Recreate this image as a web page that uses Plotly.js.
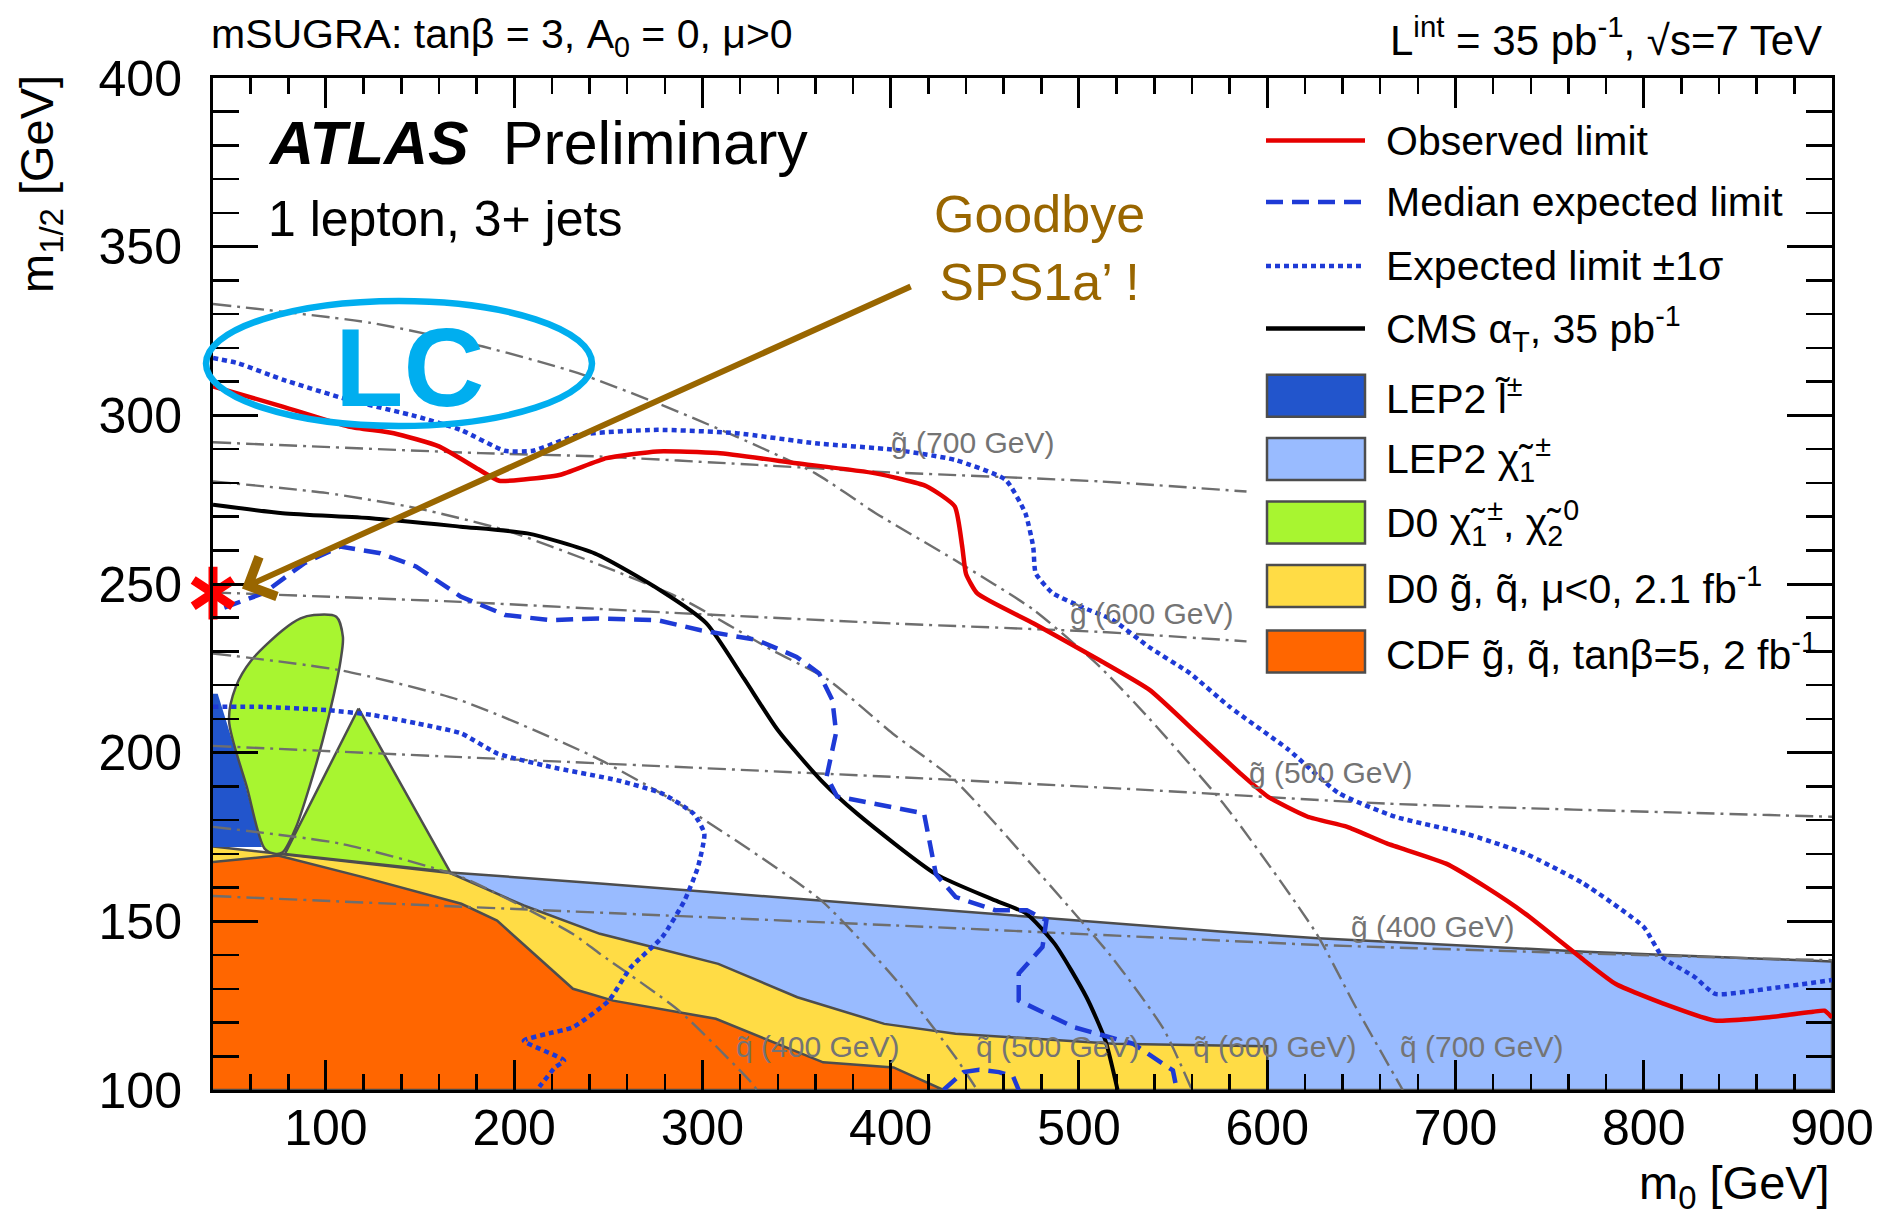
<!DOCTYPE html>
<html><head><meta charset="utf-8">
<script src="https://cdn.plot.ly/plotly-3.0.1.min.js"></script>
<style>html,body{margin:0;padding:0;background:#fff}</style>
</head><body><div id="chart" style="width:1894px;height:1218px"></div>
<script>
// ---------------- DATA (m0 [GeV], m1/2 [GeV]) ----------------
// Observed limit (red)
const obsM0  = [40,77,112,136,160,181,192,205,224,249,276,308,350,392,419,434,438,440,446,476,511,537.5,562.7,585.8,600.5,621.5,642.5,663.5,695,716,737,768.4,785.2,810.4,837.7,866.7,890,896,900];
const obsM12 = [308.6,302.6,296.7,294.7,290.8,284,280.6,281,282.3,287.3,289.3,288.8,285.8,282.8,279,273,261,253,247.2,238.3,227.4,218.6,205.7,193.8,186.9,181,178,173.1,167.1,160.2,152.3,138.4,131.4,125.6,120.6,121.6,123.2,123.5,121.5];
// Median expected limit (blue dashed), second piece = small arc near the bottom
const medM0  = [46,67,88.6,107.6,128.9,147.8,171.5,195.2,219,245,276,299,329,350,362,369,371,366,371.5,417.7,424,434.5,455.5,472.3,482.7,480.6,468,468,497.4,528.9,549.9,552,null,428,438.6,447,457.5,465,468];
const medM12 = [243,247.3,256.2,261.1,259.1,255.2,246.3,240.8,239.3,239.8,239.3,236.3,233.4,228.4,223.5,215.6,206,193,187,182,164,157.2,153.3,153.3,150.3,142.4,134.5,126.5,118.6,113.7,105.8,100,null,100,105.3,106,105.3,104,100];
// Expected limit +-1 sigma (blue dotted): upper and lower edges
const sigUpM0  = [40,53,77,112,148,171.5,195,210,234,276,318,360,402,434,461,471.5,475.7,477,486,501,518,537,559,580,611,638,668,705.5,737,768,800,810,827,838,867,900];
const sigUpM12 = [317,315.5,310.6,304.6,299.7,295.7,289.5,289.5,294.2,295.7,294.7,291.7,289.8,286.8,280.9,271,261,253.2,247.3,243.3,239.3,231.4,223.5,213.6,201,188,181,176,170.1,161.2,148.3,139.4,133.5,128.5,130.1,132.6];
const sigDnM0  = [40,65,100.7,124.4,148.2,171.9,190.9,219.3,254.9,278.6,295.3,301,297.6,290.5,278.6,262,250.2,231.2,217,205.1,226.5,221.7,214.6,212];
const sigDnM12 = [213.6,213.6,212.6,211.2,208.7,205.7,199.8,195.8,191.8,187.9,181.9,176,166.1,156.2,145.3,136.4,126.5,118.6,116.6,114.6,108.7,106.7,101.8,100];
// CMS alphaT 35 pb-1 (black)
const cmsM0  = [40,77,124,171.5,207,243,278,302,322,340,363,382,424,455.5,472,487,504,514,520.5];
const cmsM12 = [273.5,271,269.5,267,265,259,248,238.4,222,206.7,191.8,182,164,156.2,152.3,143.4,127.5,114.7,100];
// Excluded regions
const lepSlepM0  = [40,42.5,55,66,40];
const lepSlepM12 = [217.5,217.5,195,172,172];
const lepCharM0  = [166,245.5,401.5,485,575,627,769,900,900,166];
const lepCharM12 = [164.5,161.2,154.5,150.9,147,145,141,138.1,100,100];
const d0EllM0  = [93.6,105.5,109,107.8,104.3,98.3,91.2,84.1,77,73.4,67.5,58,48.5,52.1,60.4,77,86.5,93.6];
const d0EllM12 = [240.8,240.3,234.3,227.4,217.5,203.7,189.8,177.9,170.5,170,171.5,189.8,209.6,219.5,227.4,236.3,239.8,240.8];
const d0TriM0  = [117.3,78.2,166,117.3];
const d0TriM12 = [213.1,170,164.6,213.1];
const d0SqM0  = [40,74.6,143,166,205.1,245.5,273.9,308.4,350.4,396.6,434.4,518.4,574.6,600,600,40];
const d0SqM12 = [172.2,170,165.6,164.3,154.7,146.3,142.3,137.4,127.5,119.6,116.7,113.7,113.2,113,100,100];
const cdfM0  = [40,74.6,119.7,171.9,190.9,231.2,252.5,307.1,364.1,401.5,428,40];
const cdfM12 = [167.6,169.5,163.1,155.2,150.2,130,126.5,121.1,108.2,106.7,100,100];
// Iso-mass contours: squarks
const sq400M0 = [40,108,172,231,245.5,287.4,325,329];
const sq400M12 = [178,173,163.1,146.3,140.4,123.6,102.8,100];
const sq500M0 = [40,108,172,243,290.5,363,403,434.4,445];
const sq500M12 = [229.4,224.4,215.4,198.6,183.8,156.2,132.5,109.7,100.8];
const sq600M0 = [40,100,148,195,243,290,337,367,401,434,476,518,545,560];
const sq600M12 = [280.4,277,272.5,266,256.2,245.3,230.4,221.5,205.7,191.8,166.1,139,118,100];
const sq700M0 = [40,124,183.4,234,276,318,360,392,434,476,511,537.5,578,626,647,672];
const sq700M12 = [333,327.4,320.4,312.5,303.6,293.7,282.8,271,257.1,242.3,225.5,210,184,146.5,124.6,100];
// Iso-mass contours: gluinos
const gl400M0 = [40,401.5,537.5,632,866.8,900];
const gl400M12 = [157.5,148.8,145.3,142.9,138.9,138.5];
const gl500M0 = [40,401.5,537.5,663.5,866.8,900];
const gl500M12 = [202,192.8,188.9,184.9,181.5,181];
const gl600M0 = [40,171.5,290,401,511,589];
const gl600M12 = [247.5,244.7,241.3,238.3,235.8,233];
const gl700M0 = [40,182,245,329,392,511,589];
const gl700M12 = [292,288.8,287.8,285.3,283.3,280.4,277.4];
// SPS1a' point (as drawn, on the left edge)
const spsM0 = [40];
const spsM12 = [247.3];
// Text
const legendLabels = [
  'Observed limit',
  'Median expected limit',
  'Expected limit ±1σ',
  'CMS α<sub>T</sub>, 35 pb<sup>-1</sup>',
  'LEP2 l\u0303<sup>±</sup>',
  'LEP2 χ\u0303<sub>1</sub><sup>±</sup>',
  'D0 χ\u0303<sub>1</sub><sup>±</sup>, χ\u0303<sub>2</sub><sup>0</sup>',
  'D0 g\u0303, q\u0303, μ&lt;0, 2.1 fb<sup>-1</sup>',
  'CDF g\u0303, q\u0303, tanβ=5, 2 fb<sup>-1</sup>'
];
const isoLabels = ['g\u0303 (700 GeV)','g\u0303 (600 GeV)','g\u0303 (500 GeV)','g\u0303 (400 GeV)',
                   'q\u0303 (400 GeV)','q\u0303 (500 GeV)','q\u0303 (600 GeV)','q\u0303 (700 GeV)'];
const isoLabelM0  = [399,494,589,643.5,317,444,559.5,669.7];
const isoLabelM12 = [291.8,241.4,194,148.4,112.8,112.8,112.8,112.8];

// ---------------- STYLE ----------------
const FONT = 'Liberation Sans, Arial, Helvetica, sans-serif';
const RED = '#e60000', BLUE = '#1e3ad6', GREY = '#6e6e6e', EDGE = '#4d4d4d';
const C_SLEP = '#2255cc', C_CHAR = '#99bbff', C_GREEN = '#a8f530', C_YEL = '#ffdc45', C_ORA = '#ff6600';
const BROWN = '#996600', CYAN = '#00aeef';
const DASH_MED = '17px,9px', DOT = '5px,4px', DASHDOT = '18px,6px,3px,6px';

const traces = [];
function region(x, y, fill, lw) {
  traces.push({x, y, type:'scatter', mode:'lines', fill:'toself', fillcolor:fill,
    line:{color:EDGE, width:lw}, hoverinfo:'skip'});
}
region(lepCharM0, lepCharM12, C_CHAR, 2.5);
region(d0SqM0, d0SqM12, C_YEL, 2.5);
region(cdfM0, cdfM12, C_ORA, 2.5);
region(lepSlepM0, lepSlepM12, C_SLEP, 0);
traces.push({x:d0EllM0, y:d0EllM12, type:'scatter', mode:'lines', fill:'toself', fillcolor:C_GREEN,
  line:{color:EDGE, width:2.5, shape:'spline', smoothing:0.8}, hoverinfo:'skip'});
region(d0TriM0, d0TriM12, C_GREEN, 2.5);

function iso(x, y) {
  traces.push({x, y, type:'scatter', mode:'lines', line:{color:GREY, width:2.4, dash:DASHDOT, shape:'spline', smoothing:0.6}, hoverinfo:'skip'});
}
[[sq400M0,sq400M12],[sq500M0,sq500M12],[sq600M0,sq600M12],[sq700M0,sq700M12],
 [gl400M0,gl400M12],[gl500M0,gl500M12],[gl600M0,gl600M12],[gl700M0,gl700M12]].forEach(p=>iso(p[0],p[1]));

traces.push({x:cmsM0, y:cmsM12, type:'scatter', mode:'lines', line:{color:'#000', width:4, shape:'spline', smoothing:0.6}, hoverinfo:'skip'});
traces.push({x:sigUpM0, y:sigUpM12, type:'scatter', mode:'lines', line:{color:BLUE, width:4.5, dash:DOT, shape:'spline', smoothing:0.5}, hoverinfo:'skip'});
traces.push({x:sigDnM0, y:sigDnM12, type:'scatter', mode:'lines', line:{color:BLUE, width:4.5, dash:DOT, shape:'spline', smoothing:0.5}, hoverinfo:'skip'});
traces.push({x:medM0, y:medM12, type:'scatter', mode:'lines', line:{color:BLUE, width:4.5, dash:DASH_MED}, hoverinfo:'skip'});
traces.push({x:obsM0, y:obsM12, type:'scatter', mode:'lines', line:{color:RED, width:4.5, shape:'spline', smoothing:0.5}, hoverinfo:'skip'});
['y-up-open','y-down-open'].forEach(sym => traces.push({x:spsM0, y:spsM12, type:'scatter', mode:'markers', cliponaxis:false,
  marker:{symbol:sym, size:33, angle:0, color:'#ff0000', line:{color:'#ff0000', width:9}}, hoverinfo:'skip'}));

// ---------------- LAYOUT ----------------
const L = 213, R = 62, T = 78, B = 128, PW = 1894 - L - R, PH = 1218 - T - B;
const px = x => (x - L) / PW, py = y => (T + PH - y) / PH;

const shapes = [], annotations = [];
// legend
const lineRowY = [140.5, 202, 266, 328.5];
const lineStyles = [{c:RED,d:'solid'},{c:BLUE,d:DASH_MED},{c:BLUE,d:DOT},{c:'#000',d:'solid'}];
lineRowY.forEach((y,i)=>shapes.push({type:'line', xref:'paper', yref:'paper', x0:px(1266), x1:px(1365), y0:py(y), y1:py(y),
  line:{color:lineStyles[i].c, width:4.5, dash:lineStyles[i].d}}));
const boxRowY = [395.7, 459, 522.5, 586, 651.5];
const boxCols = [C_SLEP, C_CHAR, C_GREEN, C_YEL, C_ORA];
boxRowY.forEach((y,i)=>shapes.push({type:'rect', xref:'paper', yref:'paper', x0:px(1267), x1:px(1365), y0:py(y+21), y1:py(y-21),
  fillcolor:boxCols[i], line:{color:EDGE, width:2.5}}));
lineRowY.concat(boxRowY).forEach((y,i)=>annotations.push({xref:'paper', yref:'paper', x:px(1384), y:py(y), xanchor:'left', yanchor:'middle',
  text:legendLabels[i], showarrow:false, font:{family:FONT, size:41, color:'#000'}}));

// iso-mass labels
isoLabels.forEach((t,i)=>annotations.push({x:isoLabelM0[i], y:isoLabelM12[i], xanchor:'left', yanchor:'middle', text:t,
  showarrow:false, font:{family:FONT, size:30, color:'#747474'}}));

// titles / texts
annotations.push({xref:'paper', yref:'paper', x:px(209), y:py(37), xanchor:'left', yanchor:'middle',
  text:'mSUGRA: tanβ = 3, A<sub>0</sub> = 0, μ&gt;0', showarrow:false, font:{family:FONT, size:41, color:'#000'}});
annotations.push({xref:'paper', yref:'paper', x:px(1824), y:py(37), xanchor:'right', yanchor:'middle',
  text:'L<sup>int</sup> = 35 pb<sup>-1</sup>, √s=7 TeV', showarrow:false, font:{family:FONT, size:42, color:'#000'}});
annotations.push({xref:'paper', yref:'paper', x:px(266), y:py(143), xanchor:'left', yanchor:'middle',
  text:'<b><i>ATLAS</i></b>\u00a0 Preliminary', showarrow:false, font:{family:FONT, size:61, color:'#000'}});
annotations.push({xref:'paper', yref:'paper', x:px(266), y:py(219), xanchor:'left', yanchor:'middle',
  text:'1 lepton, 3+ jets', showarrow:false, font:{family:FONT, size:50, color:'#000'}});
annotations.push({xref:'paper', yref:'paper', x:1, y:py(1186), xanchor:'right', yanchor:'middle',
  text:'m<sub>0</sub> [GeV]', showarrow:false, font:{family:FONT, size:47, color:'#000'}});
annotations.push({xref:'paper', yref:'paper', x:0, xshift:-173, y:py(184), xanchor:'center', yanchor:'middle', textangle:-90,
  text:'m<sub>1/2</sub> [GeV]', showarrow:false, font:{family:FONT, size:47, color:'#000'}});
// overlays
annotations.push({xref:'paper', yref:'paper', x:px(1039), y:py(248), xanchor:'center', yanchor:'middle',
  text:'Goodbye<br>SPS1a’ !', showarrow:false, font:{family:FONT, size:52, color:BROWN}});
annotations.push({x:55.4, y:248.7, ax:411.4, ay:338.4, axref:'x', ayref:'y', text:'', showarrow:true,
  arrowhead:4, arrowsize:1.4, arrowwidth:6, arrowcolor:BROWN, standoff:0, startstandoff:0});
annotations.push({xref:'paper', yref:'paper', x:px(409), y:py(367), xanchor:'center', yanchor:'middle',
  text:'<b>LC</b>', showarrow:false, font:{family:FONT, size:112, color:CYAN}});
shapes.push({type:'circle', xref:'paper', yref:'paper', x0:px(206), x1:px(592), y0:py(426), y1:py(301),
  line:{color:CYAN, width:6.5}});

const axisCommon = {showgrid:false, zeroline:false, showline:true, linecolor:'#000', linewidth:3, mirror:'allticks',
  ticks:'inside', tickcolor:'#000', tickwidth:3, tickfont:{family:FONT, size:50, color:'#000'}, tickmode:'linear'};

const layout = {
  width:1894, height:1218, margin:{l:L, r:R, t:T, b:B}, paper_bgcolor:'#fff', plot_bgcolor:'#fff', showlegend:false,
  hovermode:false,
  xaxis:Object.assign({}, axisCommon, {range:[40,900], tick0:100, dtick:100, ticklen:30, ticklabelstandoff:-8,
    minor:{ticks:'inside', dtick:20, ticklen:16, tickwidth:2.5, tickcolor:'#000'}}),
  yaxis:Object.assign({}, axisCommon, {range:[100,400], tick0:100, dtick:50, ticklen:45, ticklabelstandoff:18,
    minor:{ticks:'inside', dtick:10, ticklen:26, tickwidth:2.5, tickcolor:'#000'}}),
  shapes, annotations
};
Plotly.newPlot('chart', traces, layout, {staticPlot:true, displayModeBar:false});
</script></body></html>
